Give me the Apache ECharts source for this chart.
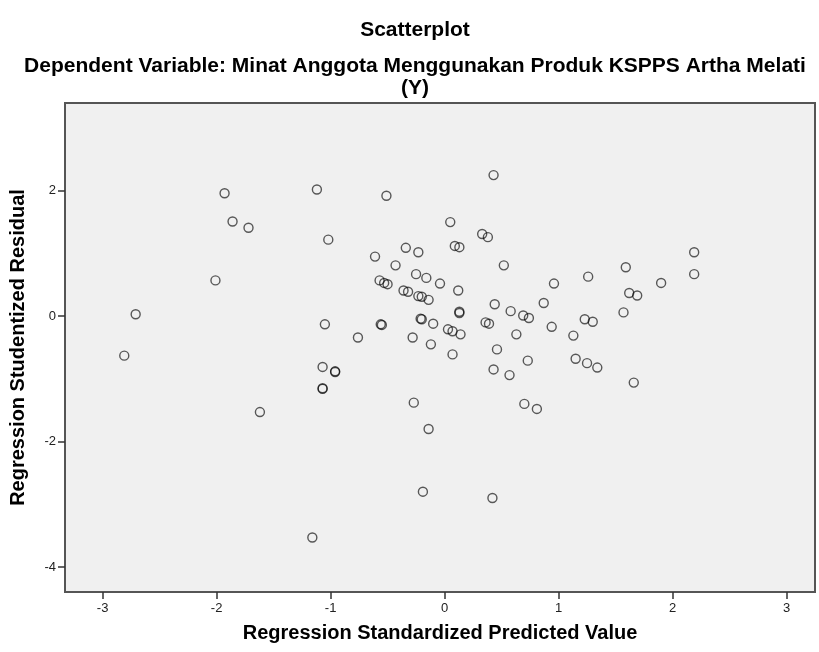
<!DOCTYPE html>
<html lang="en">
<head>
    <meta charset="UTF-8">
    <title>Scatterplot</title>
    <script src="https://cdn.jsdelivr.net/npm/echarts@6/dist/echarts.min.js"></script>
    <style>
        html, body { margin: 0; padding: 0; background: #fff; }
        #chart { width: 819px; height: 652px; }
    </style>
</head>
<body>
    <div id="chart"></div>
    <script>
        // Regression Standardized Predicted Value (x)
        const predicted = [
            -1.93, -1.86, -1.72, -2.01, -2.71, -2.81, -1.62,
            -1.12, 0.43, -0.51, -1.02, 0.05, 0.33, 0.38, 0.09, 0.13,
            -0.61, -0.34, -0.23, 0.52, -0.43, -0.25, -0.16, -0.57, -0.53, -0.50,
            -0.04, 0.96, -0.36, -0.32, 0.12, -0.23, -0.20, -0.14, 0.87, 0.44,
            0.58, 0.13, 0.13, 0.69, 0.74, -1.05, -0.55, -0.56, -0.21, -0.20,
            -0.10, 0.36, 0.39, 0.03, 0.07, 0.14, 0.94, -0.76, -0.28, 0.63,
            -0.12, 0.46, 0.07, -1.07, -0.96, -0.96, -1.07, -1.07, 0.73, 0.43,
            0.57, -0.27, 0.70, 0.81, -0.14,
            2.19, 1.59, 1.26, 2.19, 1.90, 1.62, 1.69, 1.57, 1.23, 1.30,
            1.13, 1.15, 1.25, 1.34, 1.66,
            -0.19, 0.42, -1.16
        ];
        // Regression Studentized Residual (y)
        const residual = [
            1.96, 1.51, 1.41, 0.57, 0.03, -0.63, -1.53,
            2.02, 2.25, 1.92, 1.22, 1.50, 1.31, 1.26, 1.12, 1.10,
            0.95, 1.09, 1.02, 0.81, 0.81, 0.67, 0.61, 0.57, 0.53, 0.51,
            0.52, 0.52, 0.41, 0.39, 0.41, 0.32, 0.31, 0.26, 0.21, 0.19,
            0.08, 0.07, 0.05, 0.01, -0.03, -0.13, -0.14, -0.13, -0.04, -0.05,
            -0.12, -0.10, -0.12, -0.21, -0.24, -0.29, -0.17, -0.34, -0.34, -0.29,
            -0.45, -0.53, -0.61, -0.81, -0.88, -0.89, -1.15, -1.16, -0.71, -0.85,
            -0.94, -1.38, -1.40, -1.48, -1.80,
            1.02, 0.78, 0.63, 0.67, 0.53, 0.37, 0.33, 0.06, -0.05, -0.09,
            -0.31, -0.68, -0.75, -0.82, -1.06,
            -2.80, -2.90, -3.53
        ];
        const xTicks = [-3, -2, -1, 0, 1, 2, 3];
        const yTicks = [-4, -2, 0, 2];

        const font = '"Liberation Sans", Arial, sans-serif';
        const chart = echarts.init(document.getElementById('chart'));

        const option = {
            animation: false,
            title: [
                {
                    text: 'Scatterplot',
                    left: 410,
                    top: 15,
                    textAlign: 'center',
                    textStyle: { fontFamily: font, fontSize: 21, fontWeight: 'bold', color: '#000' }
                },
                {
                    text: 'Dependent Variable: Minat Anggota Menggunakan Produk KSPPS Artha Melati\n(Y)',
                    left: 410,
                    top: 50,
                    textAlign: 'center',
                    textStyle: { fontFamily: font, fontSize: 21, fontWeight: 'bold', color: '#000', lineHeight: 22 }
                }
            ],
            grid: {
                show: true,
                left: 65,
                right: 4,
                top: 103,
                bottom: 60,
                backgroundColor: '#f0f0f0',
                borderColor: '#555',
                borderWidth: 2
            },
            xAxis: {
                type: 'value',
                min: -3.33,
                max: 3.25,
                name: 'Regression Standardized Predicted Value',
                nameLocation: 'middle',
                nameGap: 31,
                nameTextStyle: { fontFamily: font, fontSize: 20, fontWeight: 'bold', color: '#000' },
                axisLine: { show: false, onZero: false },
                splitLine: { show: false },
                axisTick: { show: true, customValues: xTicks, length: 7, lineStyle: { color: '#333', width: 1.5 } },
                axisLabel: { customValues: xTicks, margin: 10, fontFamily: font, fontSize: 13, color: '#222' }
            },
            yAxis: {
                type: 'value',
                min: -4.40,
                max: 3.40,
                name: 'Regression Studentized Residual',
                nameLocation: 'middle',
                nameGap: 37,
                nameTextStyle: { fontFamily: font, fontSize: 20, fontWeight: 'bold', color: '#000' },
                axisLine: { show: false, onZero: false },
                splitLine: { show: false },
                axisTick: { show: true, customValues: yTicks, length: 7, lineStyle: { color: '#333', width: 1.5 } },
                axisLabel: { customValues: yTicks, margin: 9, fontFamily: font, fontSize: 13, color: '#222' }
            },
            series: [
                {
                    type: 'scatter',
                    symbol: 'circle',
                    symbolSize: 9,
                    itemStyle: { color: 'transparent', borderColor: 'rgba(0,0,0,0.8)', borderWidth: 1.4 },
                    data: predicted.map((x, i) => [x, residual[i]])
                }
            ]
        };

        chart.setOption(option);
    </script>
</body>
</html>
